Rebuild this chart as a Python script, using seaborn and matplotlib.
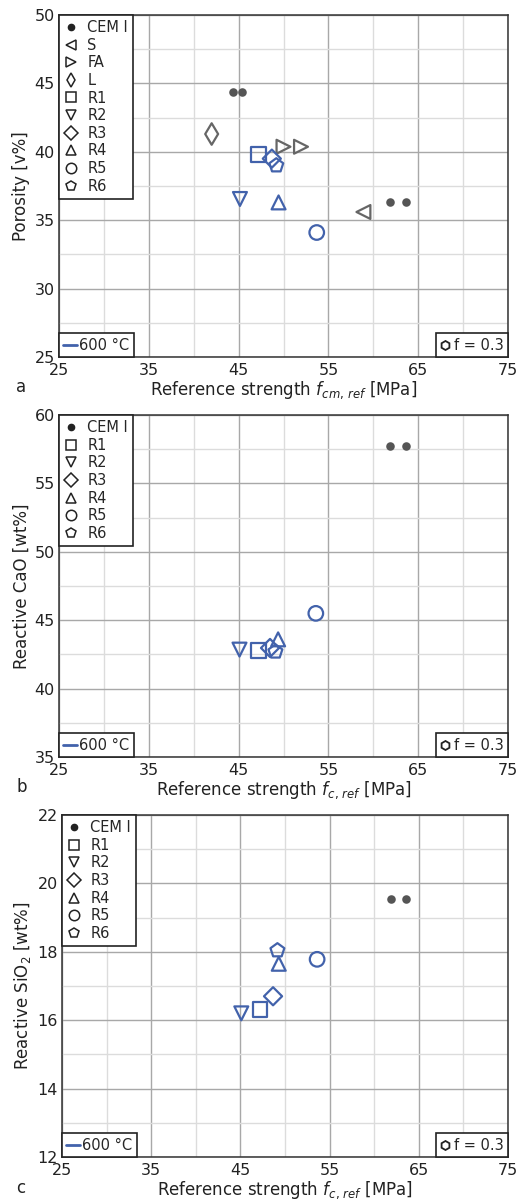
import matplotlib
matplotlib.use("Agg")
import matplotlib.pyplot as plt
from matplotlib.lines import Line2D
from matplotlib.ticker import FixedLocator
import numpy as np
import seaborn as sns

sns.set_theme(style="white")
plt.rcParams['font.family'] = ['DejaVu Sans']
plt.rcParams['mathtext.fontset'] = 'dejavusans'

BLUE = "#4262ab"
GRAY = "#666666"
DOT = "#555555"

# ---------------- data ----------------
x_ticks = [25, 35, 45, 55, 65, 75]

# Panel a: porosity
cem_a_x = [44.4, 45.4, 61.9, 63.6]
cem_a_y = [44.35, 44.35, 36.3, 36.3]
s_a_x, s_a_y = [58.9], [35.6]
fa_a_x, fa_a_y = [50.0, 51.95], [40.37, 40.37]
l_a_x, l_a_y = [42.0], [41.3]
r_labels = ["R1", "R2", "R3", "R4", "R5", "R6"]
r_a_x = [47.2, 45.15, 48.7, 49.45, 53.7, 49.2]
r_a_y = [39.8, 36.55, 39.5, 36.3, 34.1, 39.0]

# Panel b: reactive CaO
cem_b_x = [61.9, 63.6]
cem_b_y = [57.7, 57.7]
r_b_x = [47.2, 45.1, 48.5, 49.4, 53.6, 49.1]
r_b_y = [42.8, 42.85, 42.97, 43.6, 45.5, 42.7]

# Panel c: reactive SiO2
cem_c_x = [61.9, 63.6]
cem_c_y = [19.54, 19.54]
r_c_x = [47.2, 45.1, 48.66, 49.3, 53.6, 49.15]
r_c_y = [16.31, 16.2, 16.7, 17.65, 17.78, 18.04]

r_markers = ["s", "v", "D", "^", "o", "p"]
r_sizes = [110, 100, 85, 100, 110, 110]

W, H = 517, 1204
fig = plt.figure(figsize=(W / 100, H / 100), dpi=100)


def frac(l, t, r, b):
    return [l / W, 1 - b / H, (r - l) / W, (b - t) / H]


ax_a = fig.add_axes(frac(59, 15, 508, 357))
ax_b = fig.add_axes(frac(59, 415, 508, 757))
ax_c = fig.add_axes(frac(62, 815, 508, 1157))


def style_axes(ax, ylim, ymaj, ylabel, xlabel):
    ax.set_xlim(25, 75)
    ax.set_ylim(*ylim)
    ax.xaxis.set_major_locator(FixedLocator(x_ticks))
    ax.xaxis.set_minor_locator(FixedLocator([t + 5 for t in x_ticks[:-1]]))
    yt = list(np.arange(ylim[0], ylim[1] + ymaj / 2, ymaj))
    ax.yaxis.set_major_locator(FixedLocator(yt))
    ax.yaxis.set_minor_locator(FixedLocator([t + ymaj / 2 for t in yt[:-1]]))
    ax.set_yticklabels([f"{t:g}" for t in yt])
    ax.grid(which="major", color="#a8a8a8", linewidth=1.0)
    ax.grid(which="minor", color="#dcdcdc", linewidth=1.0)
    ax.set_axisbelow(True)
    for sp in ax.spines.values():
        sp.set_color("#333333")
        sp.set_linewidth(1.1)
    ax.tick_params(axis="both", which="both", length=0, labelsize=11.5,
                   colors="#222222")
    ax.tick_params(axis="x", pad=4)
    ax.tick_params(axis="y", pad=3)
    ax.set_ylabel(ylabel, fontsize=12, color="#222222", labelpad=3)
    ax.set_xlabel(xlabel, fontsize=12, color="#222222", labelpad=1)


def hollow(ax, x, y, marker, color, s, lw=1.6):
    sns.scatterplot(x=x, y=y, marker=marker, s=s, facecolor="none",
                    edgecolor=color, linewidth=lw, ax=ax, zorder=3)


def dots(ax, x, y):
    sns.scatterplot(x=x, y=y, marker="o", s=38, color=DOT,
                    edgecolor=DOT, linewidth=0, ax=ax, zorder=3)


def legends(ax, extra):
    h = [Line2D([], [], ls="", marker="o", ms=4.5, color="#222222",
                markeredgecolor="#222222", label="CEM I")]
    for m, lab in extra:
        h.append(Line2D([], [], ls="", marker=m, ms=7.5, markerfacecolor="none",
                        markeredgecolor="#222222", markeredgewidth=1.1,
                        label=lab))
    leg1 = ax.legend(handles=h, loc="upper left", frameon=True, fancybox=False,
                     edgecolor="#222222", framealpha=1, fontsize=10.5,
                     handlelength=1.0, handletextpad=0.6, labelspacing=0.18,
                     borderaxespad=0, borderpad=0.35)
    leg1.get_frame().set_linewidth(1.2)
    ax.add_artist(leg1)
    h2 = [Line2D([], [], color=BLUE, lw=2, label="600 °C")]
    leg2 = ax.legend(handles=h2, loc="lower left", frameon=True, fancybox=False,
                     edgecolor="#222222", framealpha=1, fontsize=10.5,
                     handlelength=0.9, handletextpad=0.2, borderaxespad=0,
                     borderpad=0.3)
    leg2.get_frame().set_linewidth(1.2)
    ax.add_artist(leg2)
    h3 = [Line2D([], [], ls="", marker="h", ms=6.5, markerfacecolor="none",
                 markeredgecolor="#222222", markeredgewidth=1.3,
                 label="f = 0.3")]
    leg3 = ax.legend(handles=h3, loc="lower right", frameon=True, fancybox=False,
                     edgecolor="#222222", framealpha=1, fontsize=10.5,
                     handlelength=0.6, handletextpad=0.3, borderaxespad=0,
                     borderpad=0.3)
    leg3.get_frame().set_linewidth(1.2)


r_leg = list(zip(r_markers, r_labels))

# ---- panel a ----
style_axes(ax_a, (25, 50), 5, "Porosity [v%]",
           r"Reference strength $f_{cm,\,ref}$ [MPa]")
dots(ax_a, cem_a_x, cem_a_y)
hollow(ax_a, s_a_x, s_a_y, "<", GRAY, 100)
hollow(ax_a, fa_a_x, fa_a_y, ">", GRAY, 100)
hollow(ax_a, l_a_x, l_a_y, "d", GRAY, 120)
for xi, yi, m, s in zip(r_a_x, r_a_y, r_markers, r_sizes):
    hollow(ax_a, [xi], [yi], m, BLUE, s)
legends(ax_a, [("<", "S"), (">", "FA"), ("d", "L")] + r_leg)

# ---- panel b ----
style_axes(ax_b, (35, 60), 5, "Reactive CaO [wt%]",
           r"Reference strength $f_{c,\,ref}$ [MPa]")
dots(ax_b, cem_b_x, cem_b_y)
for xi, yi, m, s in zip(r_b_x, r_b_y, r_markers, r_sizes):
    hollow(ax_b, [xi], [yi], m, BLUE, s)
legends(ax_b, r_leg)

# ---- panel c ----
style_axes(ax_c, (12, 22), 2, r"Reactive SiO$_2$ [wt%]",
           r"Reference strength $f_{c,\,ref}$ [MPa]")
dots(ax_c, cem_c_x, cem_c_y)
for xi, yi, m, s in zip(r_c_x, r_c_y, r_markers, r_sizes):
    hollow(ax_c, [xi], [yi], m, BLUE, s)
legends(ax_c, r_leg)

for lab, yp in [("a", 392), ("b", 792), ("c", 1193)]:
    fig.text(16 / W, 1 - yp / H, lab, fontsize=12, color="#222222",
             ha="left", va="baseline")

fig.savefig("out.png", dpi=100)
